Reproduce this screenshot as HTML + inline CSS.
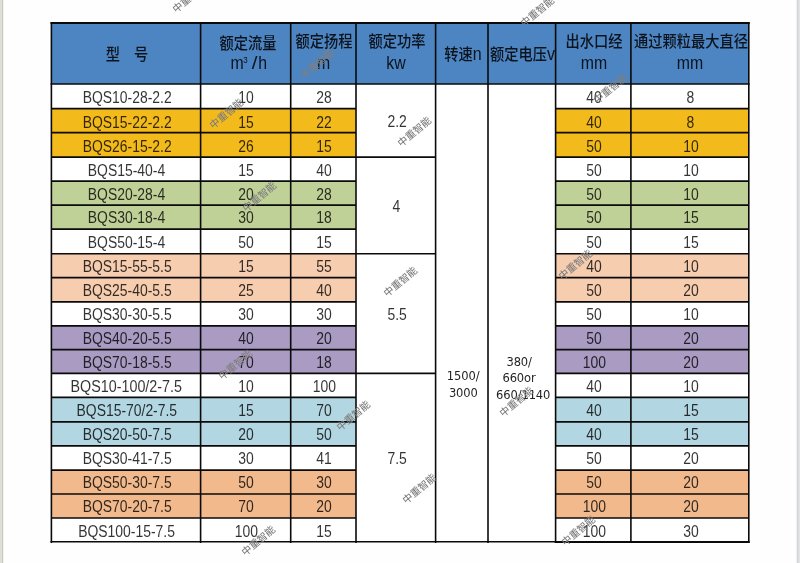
<!DOCTYPE html>
<html><head><meta charset="utf-8"><title>BQS</title>
<style>
*{margin:0;padding:0;box-sizing:border-box}
html,body{width:800px;height:563px;overflow:hidden;background:#fefefe}
body{position:relative;font-family:"Liberation Sans","Noto Sans CJK SC",sans-serif;color:rgba(0,0,0,0.8)}
.a{position:absolute}
.bg{position:absolute}
.t{position:absolute;text-align:center;white-space:nowrap;font-size:16px;line-height:24px;height:24px}
.t span{display:inline-block;transform:scaleX(0.87);transform-origin:50% 50%}
.h{position:absolute;text-align:center;white-space:nowrap;color:rgba(0,0,0,0.86)}
.cj{font-family:"Noto Sans CJK SC",sans-serif;font-size:14px}
.wm{position:absolute;font-family:"Noto Sans CJK SC",sans-serif;font-size:10px;line-height:10px;height:10px;color:#fff;opacity:0.55;mix-blend-mode:difference;white-space:nowrap;transform-origin:0 100%;transform:rotate(-40deg)}
.sm{position:absolute;text-align:center;white-space:nowrap;font-family:"DejaVu Sans",sans-serif;font-size:11.5px;letter-spacing:-0.1px;line-height:17px;color:rgba(0,0,0,0.88)}
#w{position:absolute;left:0;top:0;width:800px;height:563px;overflow:hidden;background:#fefefe;filter:blur(0.3px)}
</style></head><body><div id="w">

<div class="a" style="left:0;top:0;width:2px;height:563px;background:#dce1d4"></div>
<div class="a" style="left:2px;top:0;width:1px;height:563px;background:#c7cac0"></div>
<div class="a" style="left:3px;top:0;width:1px;height:563px;background:#f2f3ee"></div>
<div class="a" style="left:796px;top:0;width:1px;height:563px;background:#f0f0f2"></div>
<div class="a" style="left:797px;top:0;width:1px;height:563px;background:#d4d5d9"></div>
<div class="a" style="left:798px;top:0;width:1px;height:563px;background:#dcdde1"></div>
<div class="a" style="left:799px;top:0;width:1px;height:563px;background:#e3e4e8"></div>
<div class="bg" style="left:51.4px;top:23.0px;width:697.4px;height:61.0px;background:#4d84c2"></div>
<div class="bg" style="left:51.4px;top:84.0px;width:697.4px;height:458.0px;background:#fff"></div>
<div class="bg" style="left:51.4px;top:108.60px;width:304.60px;height:24.10px;background:#f3ba1b"></div>
<div class="bg" style="left:555.6px;top:108.60px;width:193.20px;height:24.10px;background:#f3ba1b"></div>
<div class="bg" style="left:51.4px;top:132.70px;width:304.60px;height:24.40px;background:#f3ba1b"></div>
<div class="bg" style="left:555.6px;top:132.70px;width:193.20px;height:24.40px;background:#f3ba1b"></div>
<div class="bg" style="left:51.4px;top:181.20px;width:304.60px;height:23.95px;background:#c0d198"></div>
<div class="bg" style="left:555.6px;top:181.20px;width:193.20px;height:23.95px;background:#c0d198"></div>
<div class="bg" style="left:51.4px;top:205.15px;width:304.60px;height:23.95px;background:#c0d198"></div>
<div class="bg" style="left:555.6px;top:205.15px;width:193.20px;height:23.95px;background:#c0d198"></div>
<div class="bg" style="left:51.4px;top:253.75px;width:304.60px;height:23.95px;background:#f7cdb0"></div>
<div class="bg" style="left:555.6px;top:253.75px;width:193.20px;height:23.95px;background:#f7cdb0"></div>
<div class="bg" style="left:51.4px;top:277.70px;width:304.60px;height:24.25px;background:#f7cdb0"></div>
<div class="bg" style="left:555.6px;top:277.70px;width:193.20px;height:24.25px;background:#f7cdb0"></div>
<div class="bg" style="left:51.4px;top:325.80px;width:304.60px;height:23.90px;background:#aa9bc3"></div>
<div class="bg" style="left:555.6px;top:325.80px;width:193.20px;height:23.90px;background:#aa9bc3"></div>
<div class="bg" style="left:51.4px;top:349.70px;width:304.60px;height:23.65px;background:#aa9bc3"></div>
<div class="bg" style="left:555.6px;top:349.70px;width:193.20px;height:23.65px;background:#aa9bc3"></div>
<div class="bg" style="left:51.4px;top:397.30px;width:304.60px;height:24.65px;background:#b3d7e2"></div>
<div class="bg" style="left:555.6px;top:397.30px;width:193.20px;height:24.65px;background:#b3d7e2"></div>
<div class="bg" style="left:51.4px;top:421.95px;width:304.60px;height:23.95px;background:#b3d7e2"></div>
<div class="bg" style="left:555.6px;top:421.95px;width:193.20px;height:23.95px;background:#b3d7e2"></div>
<div class="bg" style="left:51.4px;top:470.05px;width:304.60px;height:23.95px;background:#f1b98c"></div>
<div class="bg" style="left:555.6px;top:470.05px;width:193.20px;height:23.95px;background:#f1b98c"></div>
<div class="bg" style="left:51.4px;top:494.00px;width:304.60px;height:24.00px;background:#f1b98c"></div>
<div class="bg" style="left:555.6px;top:494.00px;width:193.20px;height:24.00px;background:#f1b98c"></div>
<svg class="a" style="left:0;top:0" width="800" height="563" viewBox="0 0 800 563"><g stroke="#0a0a0a" fill="none"><line x1="50.55" y1="23.00" x2="749.65" y2="23.00" stroke-width="1.8"/><line x1="50.55" y1="84.00" x2="749.65" y2="84.00" stroke-width="1.7"/><line x1="51.4" y1="108.60" x2="356" y2="108.60" stroke-width="1.7"/><line x1="555.6" y1="108.60" x2="748.8" y2="108.60" stroke-width="1.7"/><line x1="51.4" y1="132.70" x2="356" y2="132.70" stroke-width="1.7"/><line x1="555.6" y1="132.70" x2="748.8" y2="132.70" stroke-width="1.7"/><line x1="51.4" y1="157.10" x2="356" y2="157.10" stroke-width="1.7"/><line x1="555.6" y1="157.10" x2="748.8" y2="157.10" stroke-width="1.7"/><line x1="51.4" y1="181.20" x2="356" y2="181.20" stroke-width="1.7"/><line x1="555.6" y1="181.20" x2="748.8" y2="181.20" stroke-width="1.7"/><line x1="51.4" y1="205.15" x2="356" y2="205.15" stroke-width="1.7"/><line x1="555.6" y1="205.15" x2="748.8" y2="205.15" stroke-width="1.7"/><line x1="51.4" y1="229.10" x2="356" y2="229.10" stroke-width="1.7"/><line x1="555.6" y1="229.10" x2="748.8" y2="229.10" stroke-width="1.7"/><line x1="51.4" y1="253.75" x2="356" y2="253.75" stroke-width="1.7"/><line x1="555.6" y1="253.75" x2="748.8" y2="253.75" stroke-width="1.7"/><line x1="51.4" y1="277.70" x2="356" y2="277.70" stroke-width="1.7"/><line x1="555.6" y1="277.70" x2="748.8" y2="277.70" stroke-width="1.7"/><line x1="51.4" y1="301.95" x2="356" y2="301.95" stroke-width="1.7"/><line x1="555.6" y1="301.95" x2="748.8" y2="301.95" stroke-width="1.7"/><line x1="51.4" y1="325.80" x2="356" y2="325.80" stroke-width="1.7"/><line x1="555.6" y1="325.80" x2="748.8" y2="325.80" stroke-width="1.7"/><line x1="51.4" y1="349.70" x2="356" y2="349.70" stroke-width="1.7"/><line x1="555.6" y1="349.70" x2="748.8" y2="349.70" stroke-width="1.7"/><line x1="51.4" y1="373.35" x2="356" y2="373.35" stroke-width="1.7"/><line x1="555.6" y1="373.35" x2="748.8" y2="373.35" stroke-width="1.7"/><line x1="51.4" y1="397.30" x2="356" y2="397.30" stroke-width="1.7"/><line x1="555.6" y1="397.30" x2="748.8" y2="397.30" stroke-width="1.7"/><line x1="51.4" y1="421.95" x2="356" y2="421.95" stroke-width="1.7"/><line x1="555.6" y1="421.95" x2="748.8" y2="421.95" stroke-width="1.7"/><line x1="51.4" y1="445.90" x2="356" y2="445.90" stroke-width="1.7"/><line x1="555.6" y1="445.90" x2="748.8" y2="445.90" stroke-width="1.7"/><line x1="51.4" y1="470.05" x2="356" y2="470.05" stroke-width="1.7"/><line x1="555.6" y1="470.05" x2="748.8" y2="470.05" stroke-width="1.7"/><line x1="51.4" y1="494.00" x2="356" y2="494.00" stroke-width="1.7"/><line x1="555.6" y1="494.00" x2="748.8" y2="494.00" stroke-width="1.7"/><line x1="51.4" y1="518.00" x2="356" y2="518.00" stroke-width="1.7"/><line x1="555.6" y1="518.00" x2="748.8" y2="518.00" stroke-width="1.7"/><line x1="356" y1="157.10" x2="435.6" y2="157.10" stroke-width="1.7"/><line x1="356" y1="253.75" x2="435.6" y2="253.75" stroke-width="1.7"/><line x1="356" y1="373.35" x2="435.6" y2="373.35" stroke-width="1.7"/><line x1="50.55" y1="541.70" x2="555.6" y2="541.70" stroke-width="1.4"/><line x1="554.8000000000001" y1="542.00" x2="749.65" y2="542.00" stroke-width="1.8"/><line x1="51.4" y1="22.10" x2="51.4" y2="542.90" stroke-width="1.6"/><line x1="200.6" y1="22.10" x2="200.6" y2="542.90" stroke-width="1.6"/><line x1="290.7" y1="22.10" x2="290.7" y2="542.90" stroke-width="1.6"/><line x1="356" y1="22.10" x2="356" y2="542.90" stroke-width="1.6"/><line x1="435.6" y1="22.10" x2="435.6" y2="542.90" stroke-width="1.6"/><line x1="488" y1="22.10" x2="488" y2="542.90" stroke-width="1.6"/><line x1="555.6" y1="22.10" x2="555.6" y2="542.90" stroke-width="1.6"/><line x1="630.9" y1="22.10" x2="630.9" y2="542.90" stroke-width="1.6"/><line x1="748.8" y1="22.10" x2="748.8" y2="542.90" stroke-width="1.6"/></g></svg>
<div class="h" style="left:167.65px;width:160px;top:32px;line-height:20px;height:20px"><span style="display:inline-block;font-family:Noto Sans CJK SC,sans-serif;font-weight:500;font-size:16px;transform:scaleX(0.89)">额定流量</span></div>
<div class="h" style="left:169.00px;width:160px;top:53px;line-height:20px;height:20px"><span style="display:inline-block;font-size:18px;transform:scaleX(0.88)">m<span style="font-size:9px;position:relative;top:-6px;margin-left:-0.5px">3</span><span style="margin-left:5.4px;display:inline-block;transform:scaleX(1.3)">/</span><span style="margin-left:1.5px">h</span></span></div>
<div class="h" style="left:244.35px;width:160px;top:29.9px;line-height:20px;height:20px"><span style="display:inline-block;font-family:Noto Sans CJK SC,sans-serif;font-weight:500;font-size:16px;transform:scaleX(0.89)">额定扬程</span></div>
<div class="h" style="left:243.85px;width:160px;top:53px;line-height:20px;height:20px"><span style="display:inline-block;font-size:18px;transform:scaleX(0.88)">m</span></div>
<div class="h" style="left:316.80px;width:160px;top:29.9px;line-height:20px;height:20px"><span style="display:inline-block;font-family:Noto Sans CJK SC,sans-serif;font-weight:500;font-size:16px;transform:scaleX(0.89)">额定功率</span></div>
<div class="h" style="left:316.30px;width:160px;top:53px;line-height:20px;height:20px"><span style="display:inline-block;font-size:18px;transform:scaleX(0.88)">kw</span></div>
<div class="h" style="left:514.25px;width:160px;top:29.9px;line-height:20px;height:20px"><span style="display:inline-block;font-family:Noto Sans CJK SC,sans-serif;font-weight:500;font-size:16px;transform:scaleX(0.89)">出水口经</span></div>
<div class="h" style="left:513.75px;width:160px;top:53px;line-height:20px;height:20px"><span style="display:inline-block;font-size:18px;transform:scaleX(0.88)">mm</span></div>
<div class="h" style="left:610.85px;width:160px;top:29.9px;line-height:20px;height:20px"><span style="display:inline-block;font-family:Noto Sans CJK SC,sans-serif;font-weight:500;font-size:16px;transform:scaleX(0.89)">通过颗粒最大直径</span></div>
<div class="h" style="left:610.35px;width:160px;top:53px;line-height:20px;height:20px"><span style="display:inline-block;font-size:18px;transform:scaleX(0.88)">mm</span></div>
<div class="h" style="left:47.00px;width:160px;top:42.7px;line-height:20px;height:20px"><span style="display:inline-block;font-family:Noto Sans CJK SC,sans-serif;font-weight:500;font-size:16px;transform:scaleX(0.89)">型　号</span></div>
<div class="h" style="left:382.80px;width:160px;top:42.7px;line-height:20px;height:20px"><span style="display:inline-block;font-family:Noto Sans CJK SC,sans-serif;font-weight:500;font-size:16px;transform:scaleX(0.89)">转速<span style="font-family:Liberation Sans,sans-serif;font-size:18px">n</span></span></div>
<div class="h" style="left:442.80px;width:160px;top:42.7px;line-height:20px;height:20px"><span style="display:inline-block;font-family:Noto Sans CJK SC,sans-serif;font-weight:500;font-size:16px;transform:scaleX(0.89)">额定电压<span style="font-family:Liberation Sans,sans-serif;font-size:18px">v</span></span></div>
<div class="t" style="left:46.70px;width:160px;top:86.30px"><span>BQS10-28-2.2</span></div>
<div class="t" style="left:166.35px;width:160px;top:86.30px"><span>10</span></div>
<div class="t" style="left:244.05px;width:160px;top:86.30px"><span>28</span></div>
<div class="t" style="left:513.95px;width:160px;top:86.30px"><span>40</span></div>
<div class="t" style="left:610.55px;width:160px;top:86.30px"><span>8</span></div>
<div class="t" style="left:46.70px;width:160px;top:110.80px"><span>BQS15-22-2.2</span></div>
<div class="t" style="left:166.35px;width:160px;top:110.80px"><span>15</span></div>
<div class="t" style="left:244.05px;width:160px;top:110.80px"><span>22</span></div>
<div class="t" style="left:513.95px;width:160px;top:110.80px"><span>40</span></div>
<div class="t" style="left:610.55px;width:160px;top:110.80px"><span>8</span></div>
<div class="t" style="left:46.70px;width:160px;top:134.70px"><span>BQS26-15-2.2</span></div>
<div class="t" style="left:166.35px;width:160px;top:134.70px"><span>26</span></div>
<div class="t" style="left:244.05px;width:160px;top:134.70px"><span>15</span></div>
<div class="t" style="left:513.95px;width:160px;top:134.70px"><span>50</span></div>
<div class="t" style="left:610.55px;width:160px;top:134.70px"><span>10</span></div>
<div class="t" style="left:46.70px;width:160px;top:158.90px"><span>BQS15-40-4</span></div>
<div class="t" style="left:166.35px;width:160px;top:158.90px"><span>15</span></div>
<div class="t" style="left:244.05px;width:160px;top:158.90px"><span>40</span></div>
<div class="t" style="left:513.95px;width:160px;top:158.90px"><span>50</span></div>
<div class="t" style="left:610.55px;width:160px;top:158.90px"><span>10</span></div>
<div class="t" style="left:46.70px;width:160px;top:183.00px"><span>BQS20-28-4</span></div>
<div class="t" style="left:166.35px;width:160px;top:183.00px"><span>20</span></div>
<div class="t" style="left:244.05px;width:160px;top:183.00px"><span>28</span></div>
<div class="t" style="left:513.95px;width:160px;top:183.00px"><span>50</span></div>
<div class="t" style="left:610.55px;width:160px;top:183.00px"><span>10</span></div>
<div class="t" style="left:46.70px;width:160px;top:206.40px"><span>BQS30-18-4</span></div>
<div class="t" style="left:166.35px;width:160px;top:206.40px"><span>30</span></div>
<div class="t" style="left:244.05px;width:160px;top:206.40px"><span>18</span></div>
<div class="t" style="left:513.95px;width:160px;top:206.40px"><span>50</span></div>
<div class="t" style="left:610.55px;width:160px;top:206.40px"><span>15</span></div>
<div class="t" style="left:46.70px;width:160px;top:230.82px"><span>BQS50-15-4</span></div>
<div class="t" style="left:166.35px;width:160px;top:230.82px"><span>50</span></div>
<div class="t" style="left:244.05px;width:160px;top:230.82px"><span>15</span></div>
<div class="t" style="left:513.95px;width:160px;top:230.82px"><span>50</span></div>
<div class="t" style="left:610.55px;width:160px;top:230.82px"><span>15</span></div>
<div class="t" style="left:46.70px;width:160px;top:254.80px"><span>BQS15-55-5.5</span></div>
<div class="t" style="left:166.35px;width:160px;top:254.80px"><span>15</span></div>
<div class="t" style="left:244.05px;width:160px;top:254.80px"><span>55</span></div>
<div class="t" style="left:513.95px;width:160px;top:254.80px"><span>40</span></div>
<div class="t" style="left:610.55px;width:160px;top:254.80px"><span>10</span></div>
<div class="t" style="left:46.70px;width:160px;top:278.70px"><span>BQS25-40-5.5</span></div>
<div class="t" style="left:166.35px;width:160px;top:278.70px"><span>25</span></div>
<div class="t" style="left:244.05px;width:160px;top:278.70px"><span>40</span></div>
<div class="t" style="left:513.95px;width:160px;top:278.70px"><span>50</span></div>
<div class="t" style="left:610.55px;width:160px;top:278.70px"><span>20</span></div>
<div class="t" style="left:46.70px;width:160px;top:302.60px"><span>BQS30-30-5.5</span></div>
<div class="t" style="left:166.35px;width:160px;top:302.60px"><span>30</span></div>
<div class="t" style="left:244.05px;width:160px;top:302.60px"><span>30</span></div>
<div class="t" style="left:513.95px;width:160px;top:302.60px"><span>50</span></div>
<div class="t" style="left:610.55px;width:160px;top:302.60px"><span>10</span></div>
<div class="t" style="left:46.70px;width:160px;top:326.85px"><span>BQS40-20-5.5</span></div>
<div class="t" style="left:166.35px;width:160px;top:326.85px"><span>40</span></div>
<div class="t" style="left:244.05px;width:160px;top:326.85px"><span>20</span></div>
<div class="t" style="left:513.95px;width:160px;top:326.85px"><span>50</span></div>
<div class="t" style="left:610.55px;width:160px;top:326.85px"><span>20</span></div>
<div class="t" style="left:46.70px;width:160px;top:350.95px"><span>BQS70-18-5.5</span></div>
<div class="t" style="left:166.35px;width:160px;top:350.95px"><span>70</span></div>
<div class="t" style="left:244.05px;width:160px;top:350.95px"><span>18</span></div>
<div class="t" style="left:513.95px;width:160px;top:350.95px"><span>100</span></div>
<div class="t" style="left:610.55px;width:160px;top:350.95px"><span>20</span></div>
<div class="t" style="left:46.70px;width:160px;top:374.90px"><span style="transform:scaleX(0.895)">BQS10-100/2-7.5</span></div>
<div class="t" style="left:166.35px;width:160px;top:374.90px"><span>10</span></div>
<div class="t" style="left:244.05px;width:160px;top:374.90px"><span>100</span></div>
<div class="t" style="left:513.95px;width:160px;top:374.90px"><span>40</span></div>
<div class="t" style="left:610.55px;width:160px;top:374.90px"><span>10</span></div>
<div class="t" style="left:46.70px;width:160px;top:399.02px"><span>BQS15-70/2-7.5</span></div>
<div class="t" style="left:166.35px;width:160px;top:399.02px"><span>15</span></div>
<div class="t" style="left:244.05px;width:160px;top:399.02px"><span>70</span></div>
<div class="t" style="left:513.95px;width:160px;top:399.02px"><span>40</span></div>
<div class="t" style="left:610.55px;width:160px;top:399.02px"><span>15</span></div>
<div class="t" style="left:46.70px;width:160px;top:422.95px"><span>BQS20-50-7.5</span></div>
<div class="t" style="left:166.35px;width:160px;top:422.95px"><span>20</span></div>
<div class="t" style="left:244.05px;width:160px;top:422.95px"><span>50</span></div>
<div class="t" style="left:513.95px;width:160px;top:422.95px"><span>40</span></div>
<div class="t" style="left:610.55px;width:160px;top:422.95px"><span>15</span></div>
<div class="t" style="left:46.70px;width:160px;top:446.95px"><span>BQS30-41-7.5</span></div>
<div class="t" style="left:166.35px;width:160px;top:446.95px"><span>30</span></div>
<div class="t" style="left:244.05px;width:160px;top:446.95px"><span>41</span></div>
<div class="t" style="left:513.95px;width:160px;top:446.95px"><span>50</span></div>
<div class="t" style="left:610.55px;width:160px;top:446.95px"><span>20</span></div>
<div class="t" style="left:46.70px;width:160px;top:471.05px"><span>BQS50-30-7.5</span></div>
<div class="t" style="left:166.35px;width:160px;top:471.05px"><span>50</span></div>
<div class="t" style="left:244.05px;width:160px;top:471.05px"><span>30</span></div>
<div class="t" style="left:513.95px;width:160px;top:471.05px"><span>50</span></div>
<div class="t" style="left:610.55px;width:160px;top:471.05px"><span>20</span></div>
<div class="t" style="left:46.70px;width:160px;top:495.05px"><span>BQS70-20-7.5</span></div>
<div class="t" style="left:166.35px;width:160px;top:495.05px"><span>70</span></div>
<div class="t" style="left:244.05px;width:160px;top:495.05px"><span>20</span></div>
<div class="t" style="left:513.95px;width:160px;top:495.05px"><span>100</span></div>
<div class="t" style="left:610.55px;width:160px;top:495.05px"><span>20</span></div>
<div class="t" style="left:46.70px;width:160px;top:519.60px"><span>BQS100-15-7.5</span></div>
<div class="t" style="left:166.35px;width:160px;top:519.60px"><span>100</span></div>
<div class="t" style="left:244.05px;width:160px;top:519.60px"><span>15</span></div>
<div class="t" style="left:513.95px;width:160px;top:519.60px"><span>100</span></div>
<div class="t" style="left:610.55px;width:160px;top:519.60px"><span>30</span></div>
<div class="t" style="left:316.80px;width:160px;top:110.05px"><span>2.2</span></div>
<div class="t" style="left:316.80px;width:160px;top:194.93px"><span>4</span></div>
<div class="t" style="left:316.80px;width:160px;top:303.05px"><span>5.5</span></div>
<div class="t" style="left:316.80px;width:160px;top:447.18px"><span>7.5</span></div>
<div class="sm" style="left:423.15px;width:80px;top:368.20px;height:17px">1500/</div>
<div class="sm" style="left:423.35px;width:80px;top:384.70px;height:17px">3000</div>
<div class="sm" style="left:479.15px;width:80px;top:354.00px;height:17px">380/</div>
<div class="sm" style="left:479.05px;width:80px;top:370.20px;height:17px">660or</div>
<div class="sm" style="left:483.15px;width:80px;top:386.70px;height:17px">660/1140</div>
<div class="wm" style="left:177px;top:4px">中重智能</div>
<div class="wm" style="left:214px;top:120.4px">中重智能</div>
<div class="wm" style="left:304.5px;top:69.8px">中重智能</div>
<div class="wm" style="left:402px;top:138px">中重智能</div>
<div class="wm" style="left:525px;top:17.5px">中重智能</div>
<div class="wm" style="left:597.5px;top:95px">中重智能</div>
<div class="wm" style="left:247.2px;top:202.6px">中重智能</div>
<div class="wm" style="left:388px;top:287.5px">中重智能</div>
<div class="wm" style="left:562.5px;top:271px">中重智能</div>
<div class="wm" style="left:223.2px;top:370.8px">中重智能</div>
<div class="wm" style="left:340.5px;top:422px">中重智能</div>
<div class="wm" style="left:504px;top:407.6px">中重智能</div>
<div class="wm" style="left:245.5px;top:547px">中重智能</div>
<div class="wm" style="left:407px;top:495px">中重智能</div>
<div class="wm" style="left:566.4px;top:536.6px">中重智能</div>
</div></body></html>
